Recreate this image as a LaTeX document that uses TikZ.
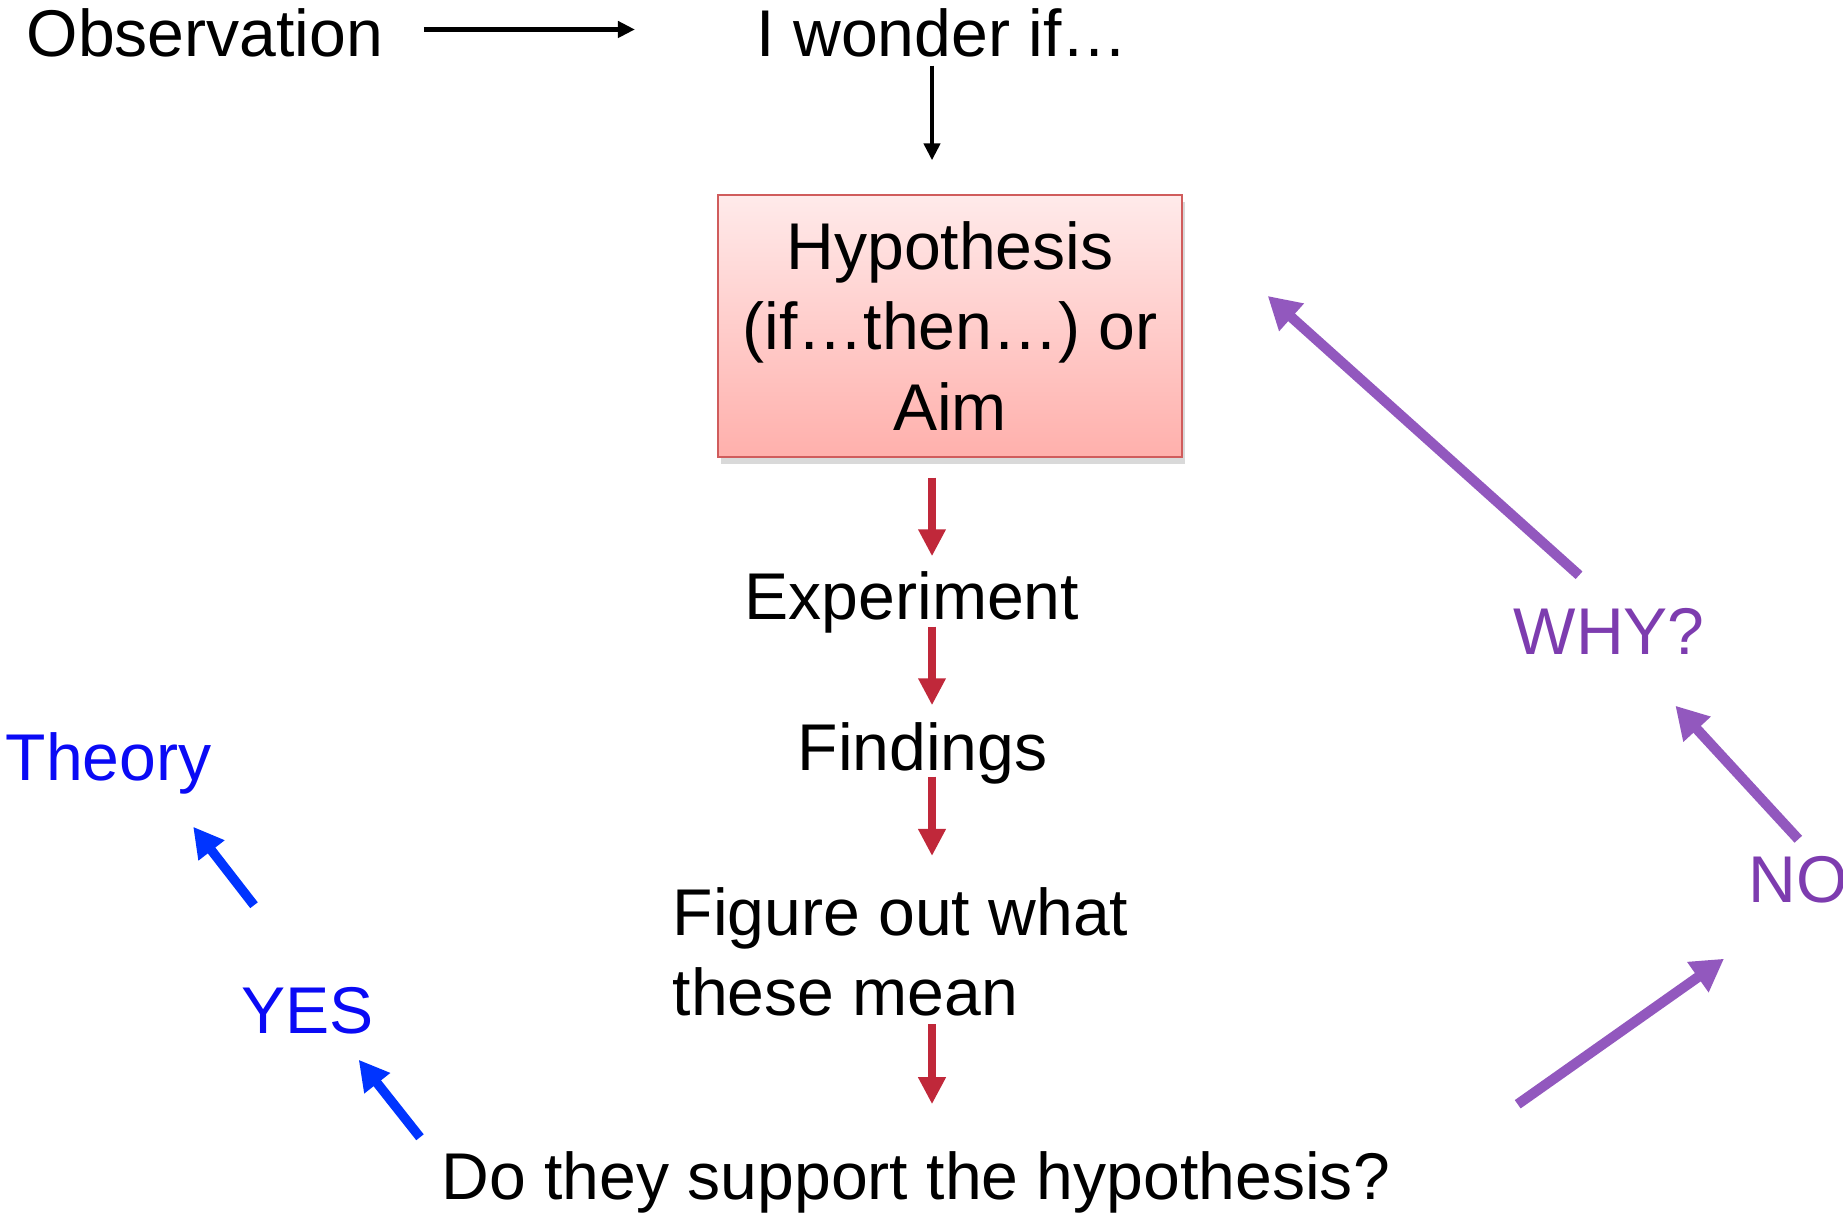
\documentclass[tikz,border=0pt]{standalone}
\usepackage{fontspec}
\setmainfont{Liberation Sans}
\usetikzlibrary{arrows.meta}
\usetikzlibrary{shadows}
\definecolor{boxtop}{RGB}{255,234,234}
\definecolor{boxbottom}{RGB}{255,176,172}
\definecolor{boxline}{RGB}{208,92,92}
\definecolor{flowred}{RGB}{192,40,58}
\definecolor{yesblue}{RGB}{0,52,255}
\definecolor{theoryblue}{RGB}{10,10,245}
\definecolor{whypurple}{RGB}{146,88,190}
\definecolor{whytext}{RGB}{125,60,175}

\begin{document}
\begin{tikzpicture}[
      x=0.01cm, y=-0.01cm,
      font=\fontsize{18.8}{22.8}\selectfont,
      word/.style={inner sep=0pt, text height=4.7mm, text depth=1.4mm, anchor=base west},
      hypothesis/.style={rectangle, draw=boxline, line width=0.6pt,
        top color=boxtop, bottom color=boxbottom, align=center,
        minimum width=46.3mm, minimum height=26.1mm,
        drop shadow={opacity=0.3, shadow xshift=0.3mm, shadow yshift=-0.7mm}},
      plainarrow/.style={line width=1.3pt, -{Triangle[length=1.7mm, width=1.6mm]}},
      flow/.style={flowred, line width=2.2pt, -{Triangle[length=2.7mm, width=2.6mm]}},
      yesarrow/.style={yesblue, line width=2.7pt, -{Triangle[length=3mm, width=3.1mm]}},
      whyarrow/.style={whypurple, line width=2.9pt, -{Triangle[length=3.2mm, width=3.5mm]}}
    ]
      \useasboundingbox (0,0) rectangle (1843,1215);
      \coordinate (axis) at (932,0);

      \node [word] (obs) at (26,56) {Observation};
      \node [word] (wonder) at (756,56) {I wonder if…};
      \node [hypothesis] (hyp) at (950,326) {Hypothesis\\(if…then…) or\\Aim};
      \node [word] (exp) at (744,619) {Experiment};
      \node [word] (find) at (797,770) {Findings};
      \node [inner sep=0pt, anchor=north west, align=left] (fig) at (672,887)
            {Figure out what\\these mean};
      \node [word] (do) at (441,1199) {Do they support the hypothesis?};
      \node [word, theoryblue] (theory) at (5,780) {Theory};
      \node [word, theoryblue] (yes) at (241,1033) {YES};
      \node [word, whytext] (why) at (1513,654) {WHY?};
      \node [word, whytext] (no) at (1748,902) {NO};

      % top line
      \draw [plainarrow, shorten <=4mm, shorten >=12.1mm]
            ([yshift=1mm]obs.east) -- ([yshift=1mm]wonder.west);
      \draw [plainarrow, shorten <=-0.5mm, shorten >=3.4mm]
            (wonder.south -| axis) -- (hyp.north -| axis);

      % red steps
      \draw [flow, shorten <=2mm, shorten >=1.5mm] (hyp.south -| axis) -- (exp.north -| axis);
      \draw [flow, shorten <=-0.7mm, shorten >=1.7mm] (exp.south -| axis) -- (find.north -| axis);
      \draw [flow, shorten <=-0.8mm, shorten >=3.1mm] (find.south -| axis) -- (fig.north -| axis);
      \draw [flow, shorten <=0.7mm, shorten >=4.7mm] (fig.south -| axis) -- (do.north -| axis);

      % yes branch
      \draw [yesarrow] ([xshift=-2.1mm, yshift=1.4mm]do.north west)
            -- ([xshift=-1.6mm, yshift=-1.2mm]yes.south east);
      \draw [yesarrow] ([xshift=1.3mm, yshift=8mm]yes.north west)
            -- ([xshift=-1.9mm, yshift=-3.2mm]theory.south east);

      % no branch
      \draw [whyarrow] ([xshift=12.7mm, yshift=4.7mm]do.north east)
            -- ([xshift=-2.4mm, yshift=-4.2mm]no.south west);
      \draw [whyarrow] ([yshift=1.5mm]no.north)
            -- ([xshift=-3mm, yshift=-3.7mm]why.south east);
      \draw [whyarrow] ([xshift=6.6mm, yshift=3.1mm]why.north west)
            -- ([xshift=8.5mm, yshift=3mm]hyp.east);
    \end{tikzpicture}
\end{document}
